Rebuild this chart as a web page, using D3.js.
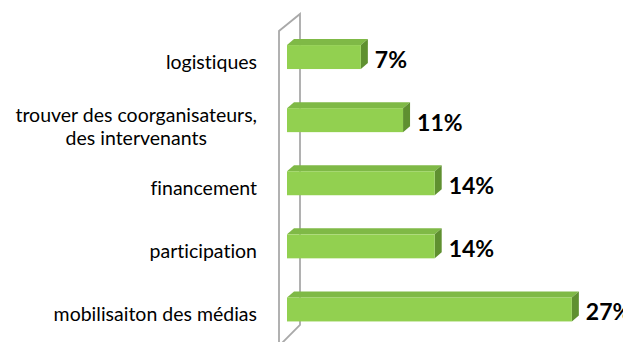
<!DOCTYPE html>
<html>
<head>
<meta charset="utf-8">
<script src="https://cdn.jsdelivr.net/npm/d3@7/dist/d3.min.js"></script>
<style>
  html, body { margin: 0; padding: 0; background: #ffffff; }
  svg { display: block; }
  text { font-variant-ligatures: none; font-feature-settings: "liga" 0, "clig" 0; }
</style>
</head>
<body>
<svg id="chart" width="623" height="342"></svg>
<script>
// Difficultés rencontrées (part des répondants, en %)
const categories = [
  "logistiques",
  "trouver des coorganisateurs,\ndes intervenants",
  "financement",
  "participation",
  "mobilisaiton des médias"
];
const values = [7, 11, 14, 14, 27];
const valueLabels = ["7%", "11%", "14%", "14%", "27%"];

const W = 623, H = 342;
const depthX = 7, depthY = -6;   // oblique depth of the 3-D bars

const svg = d3.select("#chart");

const x = d3.scaleLinear().domain([0, 30]).range([287, 603.5]);
const y = d3.scaleBand()
  .domain(categories)
  .range([25.5, 341])
  .paddingInner(0.62)
  .paddingOuter(0.31);

// Side wall of the 3-D plot area
const x0 = x(0);
const wall = svg.append("g")
  .attr("fill", "none")
  .attr("stroke", "#a9a9a9")
  .attr("stroke-width", 1.8);
wall.append("path")
  .attr("d", `M${x0 - 8},${H + 2} L${x0 - 8},31 L${x0 + 13},14 L${x0 + 13},325 L${x0 - 6},${H + 2}`);

// Bars: front, top and right faces
const bars = svg.append("g").selectAll("g.bar")
  .data(categories.map((c, i) => ({ c, v: values[i], label: valueLabels[i] })))
  .join("g").attr("class", "bar");

bars.append("path") // top face
  .attr("fill", "#7fb946")
  .attr("d", d => {
    const y0 = y(d.c), x1 = x(d.v);
    return `M${x0},${y0} L${x0 + depthX},${y0 + depthY} L${x1 + depthX},${y0 + depthY} L${x1},${y0} Z`;
  });

bars.append("path") // right face
  .attr("fill", "#5f9030")
  .attr("d", d => {
    const y0 = y(d.c), y1 = y0 + y.bandwidth(), x1 = x(d.v);
    return `M${x1},${y0} L${x1 + depthX},${y0 + depthY} L${x1 + depthX},${y1 + depthY} L${x1},${y1} Z`;
  });

bars.append("rect") // front face
  .attr("fill", "#92d050")
  .attr("x", x0)
  .attr("y", d => y(d.c))
  .attr("width", d => x(d.v) - x0)
  .attr("height", y.bandwidth());

// Value labels
bars.append("text")
  .attr("x", d => x(d.v) + depthX + 7)
  .attr("y", d => y(d.c) + y.bandwidth() / 2 + 2.5)
  .attr("dy", "0.35em")
  .attr("font-family", "Lato, 'Open Sans', sans-serif")
  .attr("font-weight", "bold")
  .attr("font-size", 23)
  .attr("fill", "#000")
  .text(d => d.label);

// Category labels, right edge at the same x
const labelRight = 257;
const catG = svg.append("g")
  .attr("font-family", "Lato, 'Open Sans', sans-serif")
  .attr("font-size", 19.5)
  .attr("fill", "#000");

categories.forEach(c => {
  const lines = c.split("\n");
  const cy = y(c) + y.bandwidth() / 2;
  const lh = 23;
  const t = catG.append("text")
    .attr("text-anchor", "middle")
    .attr("y", lines.length > 1 ? cy + 2 : cy + 11.5);
  const spans = lines.map((ln, i) => t.append("tspan")
    .attr("dy", i === 0 ? 0 : lh)
    .text(ln));
  const maxW = d3.max(spans, s => s.node().getComputedTextLength());
  spans.forEach(s => s.attr("x", labelRight - maxW / 2));
});
</script>
</body>
</html>
